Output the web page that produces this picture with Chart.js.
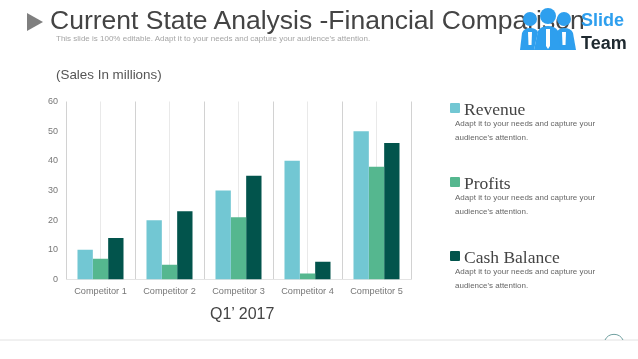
<!DOCTYPE html>
<html lang="en">
<head>
<meta charset="UTF-8">
<title>Current State Analysis</title>
<script src="https://cdn.jsdelivr.net/npm/chart.js@4.3.0/dist/chart.umd.min.js"></script>
<style>
html,body{margin:0;padding:0;background:#fff;overflow:hidden}
body{width:638px;height:359px;position:relative;font-family:"Liberation Sans",Arial,sans-serif}
canvas{position:absolute;left:0;top:0}
.t{position:absolute;white-space:nowrap}
.swatch{position:absolute;width:10px;height:10px;border-radius:1px}
.lg{position:absolute;white-space:nowrap;font-family:"Liberation Serif",serif;font-size:17.5px;color:#444}
.ld{position:absolute;font-size:8px;line-height:14px;color:#666;white-space:nowrap}
</style>
</head>
<body>
<div id="graph-container" style="position:absolute;left:0;top:0;width:638px;height:359px">
    <canvas id="chart" width="638" height="359"></canvas>
</div>

<svg class="t" style="left:0;top:0" width="638" height="359">
    <polygon points="27,13 43,22 27,31" fill="#7f7f7f"/>
    <line x1="0" y1="340" x2="638" y2="340" stroke="#e2e2e2"/>
    <path d="M605 340 A10 10 0 0 1 623 340" fill="none" stroke="#6f9f9f" stroke-width="1"/>
</svg>

<div class="t" style="left:50px;top:5px;font-size:26.5px;color:#444">Current State Analysis -Financial Comparison</div>
<div class="t" style="left:56px;top:34px;font-size:8px;color:#a5a5a5">This slide is 100% editable. Adapt it to your needs and capture your audience's attention.</div>
<div class="t" style="left:56px;top:67px;font-size:13.4px;color:#555">(Sales In millions)</div>
<div class="t" style="left:210px;top:305px;font-size:16px;color:#444">Q1’ 2017</div>

<svg class="t" style="left:0;top:0" width="638" height="60">
    <g fill="#2e9fee">
        <circle cx="530" cy="19" r="7"/>
        <circle cx="548" cy="16" r="8"/>
        <circle cx="564" cy="19" r="7"/>
        <path d="M520 50 L522 33 Q524 28 530 28 Q536 28 538 32 L534 50 Z"/>
        <path d="M534 50 L538 31 Q541 26 548 26 Q555 26 558 31 L562 50 Z"/>
        <path d="M561 50 L557 32 Q559 28 564 28 Q571 28 573 33 L576 50 Z"/>
    </g>
    <g fill="#fff">
        <polygon points="528,32 532,32 531.5,45 528.5,45"/>
        <polygon points="546,29 550,29 550,46 548,49 546,46"/>
        <polygon points="562,32 566,32 565.5,45 562.5,45"/>
    </g>
</svg>
<div class="t" style="left:581px;top:10px;font-size:18px;font-weight:bold;color:#2e9fee">Slide</div>
<div class="t" style="left:581px;top:33px;font-size:18px;font-weight:bold;color:#1f2a30">Team</div>

<div id="legend"></div>

<script>
const categories = ["Competitor 1", "Competitor 2", "Competitor 3", "Competitor 4", "Competitor 5"];
const revenue = [10, 20, 30, 40, 50];
const profits = [7, 5, 21, 2, 38];
const cashBalance = [14, 23, 35, 6, 46];
const yTicks = [0, 10, 20, 30, 40, 50, 60];
const seriesNames = ["Revenue", "Profits", "Cash Balance"];
const seriesColors = ["#72c7d3", "#55b78f", "#02544c"];
const legendText = ["Adapt it to your needs and capture your", "audience's attention."];

const mychart = new Chart(document.getElementById('chart'), {
    type: 'bar',
    data: {
        labels: categories,
        datasets: [revenue, profits, cashBalance].map((values, i) => ({
            label: seriesNames[i],
            data: values,
            backgroundColor: seriesColors[i],
            categoryPercentage: 0.667,
            barPercentage: 1
        }))
    },
    options: {
        responsive: false,
        animation: false,
        layout: { padding: { left: 30, right: 227, top: 101.5, bottom: 59.5 } },
        plugins: { legend: { display: false }, tooltip: { enabled: false } },
        scales: {
            x: {
                grid: { display: false, drawTicks: false },
                border: { display: true, color: '#e4e4e4' },
                ticks: { color: '#777', font: { size: 9.2, family: 'Liberation Sans' }, padding: 6, maxRotation: 0, autoSkip: false },
                afterFit: s => { s.height = 20; }
            },
            // hidden axis, only there for the vertical lines: dark between groups, light through the middle
            x2: {
                type: 'linear',
                position: 'bottom',
                offset: false,
                min: 0,
                max: 5,
                afterBuildTicks: s => { s.ticks = [0,.5,1,1.5,2,2.5,3,3.5,4,4.5,5].map(v => ({ value: v })); },
                ticks: { display: false },
                border: { display: false },
                grid: {
                    offset: false,
                    drawTicks: false,
                    color: c => (c.tick && !Number.isInteger(c.tick.value)) ? '#e9e9e9' : '#d2d2d2'
                },
                afterFit: s => { s.height = 0; }
            },
            y: {
                min: 0,
                max: 60,
                afterBuildTicks: s => { s.ticks = yTicks.map(v => ({ value: v })); },
                grid: { display: false, drawTicks: false },
                border: { display: false },
                ticks: { color: '#777', font: { size: 9, family: 'Liberation Sans' }, padding: 8 },
                afterFit: s => { s.width = 36; }
            }
        }
    }
});

// legend on the right is plain html
const legendTops = [103, 177, 251];
const legend = document.getElementById('legend');
seriesNames.forEach((name, i) => {
    const top = legendTops[i];
    legend.innerHTML +=
        `<div class="swatch" style="left:450px;top:${top}px;background:${seriesColors[i]}"></div>` +
        `<div class="lg" style="left:464px;top:${top - 4}px">${name}</div>` +
        `<div class="ld" style="left:455px;top:${top + 14}px">${legendText[0]}<br>${legendText[1]}</div>`;
});
</script>
</body>
</html>
